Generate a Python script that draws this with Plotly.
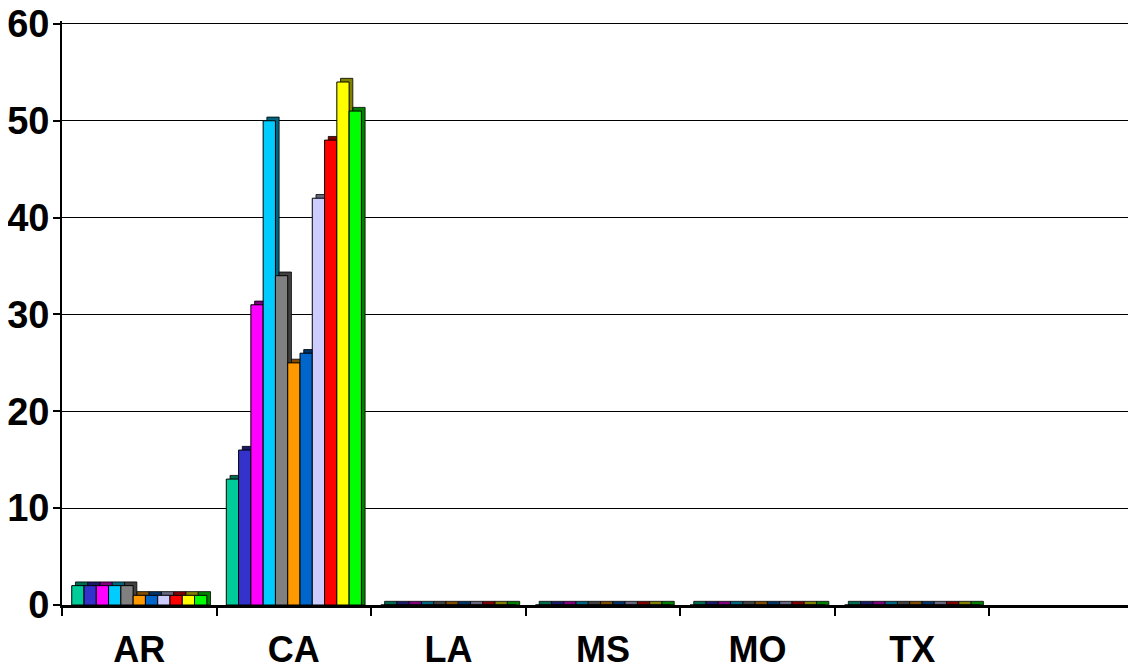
import plotly.graph_objects as go

categories = ["AR", "CA", "LA", "MS", "MO", "TX", ""]

s1 = [2, 13, 0, 0, 0, 0, None]
s2 = [2, 16, 0, 0, 0, 0, None]
s3 = [2, 31, 0, 0, 0, 0, None]
s4 = [2, 50, 0, 0, 0, 0, None]
s5 = [2, 34, 0, 0, 0, 0, None]
s6 = [1, 25, 0, 0, 0, 0, None]
s7 = [1, 26, 0, 0, 0, 0, None]
s8 = [1, 42, 0, 0, 0, 0, None]
s9 = [1, 48, 0, 0, 0, 0, None]
s10 = [1, 54, 0, 0, 0, 0, None]
s11 = [1, 51, 0, 0, 0, 0, None]

series = [s1, s2, s3, s4, s5, s6, s7, s8, s9, s10, s11]
colors = ["#00CC99", "#3333CC", "#FF00FF", "#00CCFF", "#808080", "#FF9900",
          "#0066CC", "#CCCCFF", "#FF0000", "#FFFF00", "#00FF00"]
dark = ["#006B50", "#1A1A6B", "#800080", "#00667F", "#404040", "#804D00",
        "#003366", "#66667F", "#800000", "#808000", "#008000"]

y_ticks = [0, 10, 20, 30, 40, 50, 60]

n = len(series)
group = 0.874
w = group / n
start = -group / 2
dx = 0.024   # depth offset (category units)
dy = 0.38    # depth offset (value units)

fig = go.Figure()
for i, vals in enumerate(series):
    off = start + i * w
    depth_vals = [None if v is None else v + dy for v in vals]
    fig.add_trace(go.Bar(
        x=categories, y=depth_vals, offset=off + dx, width=w,
        marker=dict(color=dark[i], line=dict(color="black", width=0.8)),
        showlegend=False, hoverinfo="skip"))
    fig.add_trace(go.Bar(
        x=categories, y=vals, offset=off, width=w,
        marker=dict(color=colors[i], line=dict(color="black", width=1)),
        showlegend=False))

fig.update_layout(
    width=1136, height=669,
    margin=dict(l=54, r=0, t=13, b=72),
    paper_bgcolor="white", plot_bgcolor="white",
    barmode="overlay",
    font=dict(family="Liberation Sans, Arial, sans-serif", color="black"),
    xaxis=dict(
        type="category", categoryorder="array", categoryarray=categories,
        range=[-0.5, 6.5], automargin=False,
        tickson="boundaries", ticks="outside", ticklen=8, tickwidth=1.5,
        tickcolor="black",
        showline=True, linecolor="black", linewidth=2.5,
        showgrid=False,
        tickfont=dict(size=36, family="Liberation Sans, Arial, sans-serif"),
        ticklabelstandoff=11, ticklabeloverflow="allow",
        tickvals=categories,
        ticktext=["<b>%s</b>" % c for c in categories],
    ),
    yaxis=dict(
        range=[0, 60.3], tickvals=y_ticks, automargin=False,
        ticktext=["<b>%d</b>" % t for t in y_ticks],
        ticks="outside", ticklen=7, tickcolor="black", tickwidth=1.5,
        showline=True, linecolor="black", linewidth=2,
        showgrid=True, gridcolor="black", gridwidth=1,
        zeroline=False, ticklabelstandoff=-4, ticklabeloverflow="allow",
        tickfont=dict(size=38, family="Liberation Sans, Arial, sans-serif"),
    ),
)

fig.write_html("out.html")
